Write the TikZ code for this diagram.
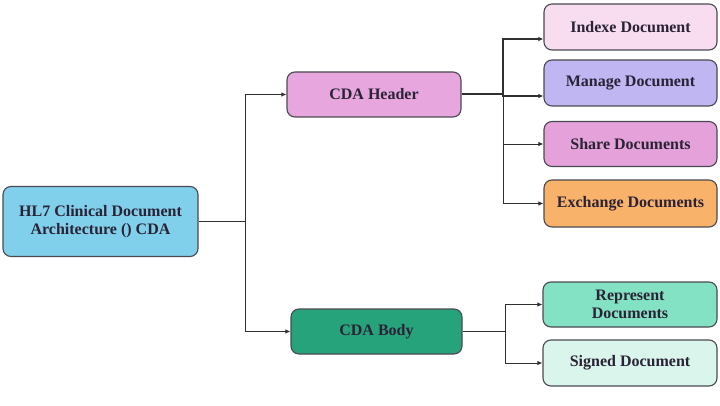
\documentclass[tikz,border=0pt]{standalone}
\usepackage{fontspec}
\setmainfont{Liberation Serif}
\usetikzlibrary{arrows.meta}
\definecolor{cHL}{HTML}{80D0EC}
\definecolor{cHdr}{HTML}{E8A6DE}
\definecolor{cIdx}{HTML}{F8DCF0}
\definecolor{cMng}{HTML}{BFB6F2}
\definecolor{cShr}{HTML}{E5A2DA}
\definecolor{cExc}{HTML}{F9B26A}
\definecolor{cBody}{HTML}{27A37C}
\definecolor{cRep}{HTML}{84E2C4}
\definecolor{cSgn}{HTML}{DAF6EC}
\definecolor{cBorder}{HTML}{4A4A52}
\definecolor{cText}{HTML}{2A2235}
\definecolor{cLine}{HTML}{303030}
\tikzset{
  box/.style={draw=cBorder, line width=1.1pt, rounded corners=8pt, align=center,
    font=\fontsize{16}{18}\selectfont\bfseries, text=cText, inner sep=2pt},
  conn/.style={draw=cLine, line width=0.9pt},
  arr/.style={conn, -{Latex[length=5pt,width=4.5pt]}}
}
\begin{document}
\begin{tikzpicture}[x=1pt,y=-1pt]
\useasboundingbox (0,0) rectangle (720,406);
\node[box, fill=cHL, minimum width=195pt, minimum height=70pt] (hl7) at (100.5,221.5) {HL7 Clinical Document\\Architecture () CDA};
\node[box, fill=cHdr, minimum width=174pt, minimum height=45pt] (hdr) at (374,94.5) {CDA Header};
\node[box, fill=cBody, minimum width=171pt, minimum height=45pt] (body) at (376.5,331.5) {CDA Body};
\node[box, fill=cIdx, minimum width=173pt, minimum height=46pt] (idx) at (630.5,27) {Indexe Document};
\node[box, fill=cMng, minimum width=173pt, minimum height=46pt] (mng) at (630.5,83) {Manage Document};
\node[box, fill=cShr, minimum width=173pt, minimum height=45pt] (shr) at (630.5,144) {Share Documents};
\node[box, fill=cExc, minimum width=173pt, minimum height=47pt] (exc) at (630.5,203.5) {Exchange Documents};
\node[box, fill=cRep, minimum width=174pt, minimum height=45pt] (rep) at (630,304.5) {Represent\\Documents};
\node[box, fill=cSgn, minimum width=174pt, minimum height=46pt] (sgn) at (630,363) {Signed Document};

\coordinate (j1) at (245,221.5);
\coordinate (j2) at (503,94.5);
\coordinate (j3) at (505,331.5);

\draw[conn] (hl7.east) -- (j1);
\draw[arr] (j1) |- (hdr.west);
\draw[arr] (j1) |- (body.west);

\draw[conn, line width=2pt] (hdr.east) -- (j2);
\draw[arr, line width=1.3pt] (j2) |- ([yshift=-12pt]idx.west);
\draw[arr, line width=1.3pt] (j2) |- ([yshift=-13pt]mng.west);
\draw[arr] (j2) |- (shr.west);
\draw[arr] (j2) |- (exc.west);

\draw[conn] (body.east) -- (j3);
\draw[arr] (j3) |- (rep.west);
\draw[arr] (j3) |- (sgn.west);
\end{tikzpicture}
\end{document}
